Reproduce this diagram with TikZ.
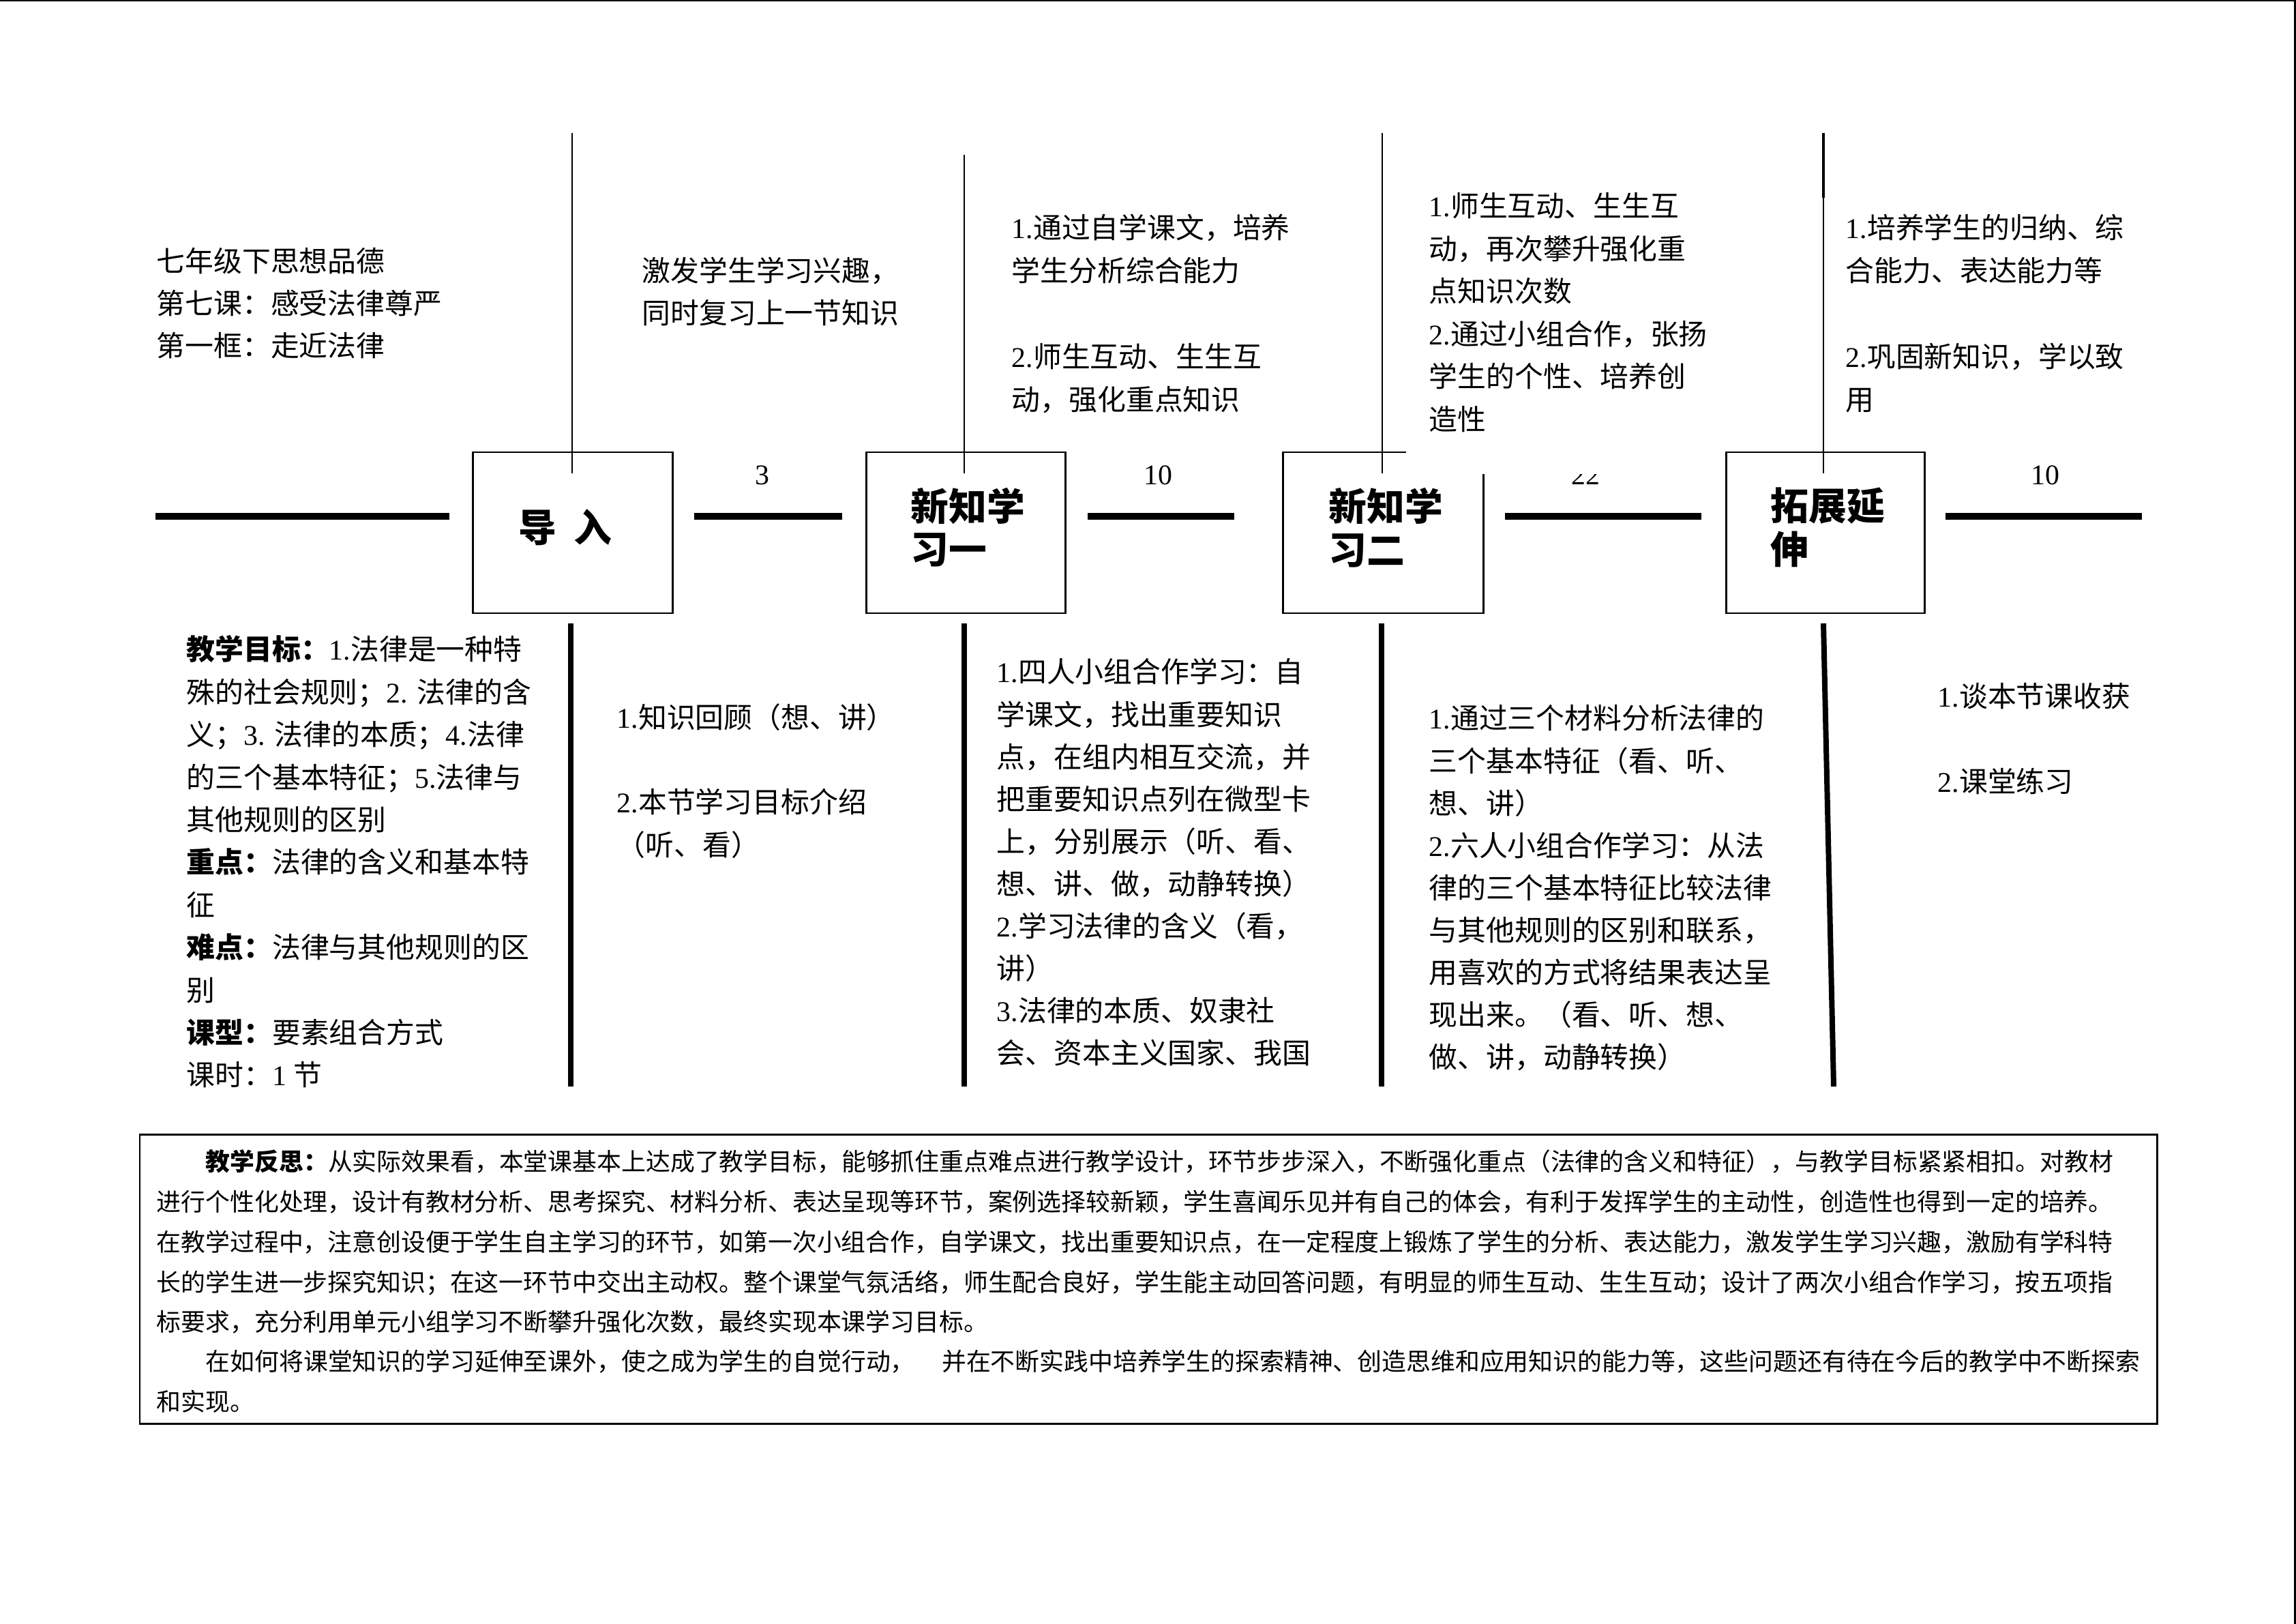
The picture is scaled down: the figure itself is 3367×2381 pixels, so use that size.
\documentclass[tikz,border=0pt]{standalone}
\usepackage{fontspec}
\setmainfont{Noto Sans CJK SC}
\newfontfamily\tmsf{Liberation Serif}
\newcommand\tm[1]{{\tmsf #1}}
\begin{document}
\begin{tikzpicture}[x=0.088209mm,y=-0.088209mm,
  txt/.style={font=\fontsize{10.5pt}{12pt}\selectfont, inner sep=0pt, anchor=west, text height=0.8em, text depth=0.1em},
  smalltxt/.style={font=\fontsize{9pt}{11pt}\selectfont, inner sep=0pt, anchor=west, text height=0.8em, text depth=0.1em},
  ttl/.style={font=\fontsize{14pt}{16pt}\selectfont\bfseries, inner sep=0pt, anchor=west, text height=0.8em, text depth=0.1em},
  num/.style={font=\fontsize{10.5pt}{12pt}\selectfont\tmsf, inner sep=0pt, anchor=base},
  thinln/.style={line width=0.6pt},
  thickv/.style={line width=2pt},
  thickh/.style={line width=2.75pt},
  boxln/.style={line width=0.75pt}]
\useasboundingbox (0,0) rectangle (3367,2381);
% page frame (top and right)
\draw[line width=0.6pt] (0,1) -- (3367,1);
\draw[line width=0.9pt] (3365.5,0) -- (3365.5,2381);

% main timeline thick segments
\draw[thickh] (228,757) -- (659,757);
\draw[thickh] (1018,757) -- (1235,757);
\draw[thickh] (1595,757) -- (1810,757);
\draw[thickh] (2207,757) -- (2495,757);
\draw[thickh] (2853,757) -- (3141,757);

% thin verticals above
\draw[thinln] (839,195) -- (839,694);
\draw[thinln] (1414,227) -- (1414,694);
\draw[thinln] (2027,195) -- (2027,694);
\draw[line width=1.1pt] (2674,195) -- (2674,290);
\draw[thinln] (2674,290) -- (2674,694);

% thick verticals below
\draw[thickv] (837,914) -- (837,1593);
\draw[thickv] (1414,914) -- (1414,1593);
\draw[thickv] (2026,914) -- (2026,1593);
\draw[thickv] (2674,914) -- (2689,1593);

% duration labels
\node[num] (n1) at (1118,711) {3};
\node[num] (n2) at (1698,711) {10};
\node[num] (n3) at (2325,711) {22};
\node[num] (n4) at (2999,711) {10};
\fill[white] (2250,640) rectangle (2420,695);

% boxes
\draw[boxln] (693,663) rectangle (986,899);
\draw[boxln] (1270,663) rectangle (1562,899);
\draw[boxln] (2062,663) -- (1881,663) -- (1881,899) -- (2175,899) -- (2175,695);
\draw[boxln] (2531,663) rectangle (2822,899);

% box titles
\node[ttl,anchor=center] (b1) at (829,781) {导\hspace{0.45em}入};
\node[ttl] (b2a) at (1335,750) {新知学};
\node[ttl] (b2b) at (1335,813) {习一};
\node[ttl] (b3a) at (1948,750) {新知学};
\node[ttl] (b3b) at (1948,814) {习二};
\node[ttl] (b4a) at (2596,749) {拓展延};
\node[ttl] (b4b) at (2596,813) {伸};

% upper texts
\foreach \t [count=\i from 0] in {七年级下思想品德,第七课：感受法律尊严,第一框：走近法律}
  \node[txt] (ta-\i) at (229,{385+62*\i}) {\t};
\foreach \t [count=\i from 0] in {激发学生学习兴趣，,同时复习上一节知识}
  \node[txt] (tb-\i) at (941,{399+62*\i}) {\t};
\foreach \t [count=\i from 0] in {\tm{1.}通过自学课文，培养,学生分析综合能力}
  \node[txt] (tc-\i) at (1483,{336+63*\i}) {\t};
\foreach \t [count=\i from 0] in {\tm{2.}师生互动、生生互,动，强化重点知识}
  \node[txt] (td-\i) at (1483,{525+63*\i}) {\t};
\foreach \t [count=\i from 0] in {\tm{1.}师生互动、生生互,动，再次攀升强化重,点知识次数,\tm{2.}通过小组合作，张扬,学生的个性、培养创,造性}
  \node[txt] (te-\i) at (2095,{304+62.5*\i}) {\t};
\foreach \t [count=\i from 0] in {\tm{1.}培养学生的归纳、综,合能力、表达能力等}
  \node[txt] (tf-\i) at (2706,{336+63*\i}) {\t};
\foreach \t [count=\i from 0] in {\tm{2.}巩固新知识，学以致,用}
  \node[txt] (tg-\i) at (2706,{525+63*\i}) {\t};

% lower texts
\foreach \t [count=\i from 0] in {{\bfseries 教学目标：}\tm{1.}法律是一种特,殊的社会规则；\tm{2. }法律的含,义；\tm{3. }法律的本质；\tm{4.}法律,的三个基本特征；\tm{5.}法律与,其他规则的区别,{\bfseries 重点：}法律的含义和基本特,征,{\bfseries 难点：}法律与其他规则的区,别,{\bfseries 课型：}要素组合方式,课时：\tm{1 }节}
  \node[txt] (la-\i) at (273,{954+62.4*\i}) {\t};
\node[txt] (lb-0) at (904,1054) {\tm{1.}知识回顾（想、讲）};
\node[txt] (lb-1) at (904,1178) {\tm{2.}本节学习目标介绍};
\node[txt] (lb-2) at (904,1241) {（听、看）};
\foreach \t [count=\i from 0] in {\tm{1.}四人小组合作学习：自,学课文，找出重要知识,点，在组内相互交流，并,把重要知识点列在微型卡,上，分别展示（听、看、,想、讲、做，动静转换）,\tm{2.}学习法律的含义（看，,讲）,\tm{3.}法律的本质、奴隶社,会、资本主义国家、我国}
  \node[txt] (lc-\i) at (1461,{987+62.1*\i}) {\t};
\foreach \t [count=\i from 0] in {\tm{1.}通过三个材料分析法律的,三个基本特征（看、听、,想、讲）,\tm{2.}六人小组合作学习：从法,律的三个基本特征比较法律,与其他规则的区别和联系，,用喜欢的方式将结果表达呈,现出来。（看、听、想、,做、讲，动静转换）}
  \node[txt] (ld-\i) at (2095,{1055+62.1*\i}) {\t};
\node[txt] (le-0) at (2841,1023) {\tm{1.}谈本节课收获};
\node[txt] (le-1) at (2841,1148) {\tm{2.}课堂练习};

% reflection box
\draw[boxln] (205,1663) rectangle (3163,2087);
\node[smalltxt] (r-0) at (301,1703) {{\bfseries 教学反思：}从实际效果看，本堂课基本上达成了教学目标，能够抓住重点难点进行教学设计，环节步步深入，不断强化重点（法律的含义和特征），与教学目标紧紧相扣。对教材};
\node[smalltxt] (r-1) at (229,1762) {进行个性化处理，设计有教材分析、思考探究、材料分析、表达呈现等环节，案例选择较新颖，学生喜闻乐见并有自己的体会，有利于发挥学生的主动性，创造性也得到一定的培养。};
\node[smalltxt] (r-2) at (229,1821) {在教学过程中，注意创设便于学生自主学习的环节，如第一次小组合作，自学课文，找出重要知识点，在一定程度上锻炼了学生的分析、表达能力，激发学生学习兴趣，激励有学科特};
\node[smalltxt] (r-3) at (229,1880) {长的学生进一步探究知识；在这一环节中交出主动权。整个课堂气氛活络，师生配合良好，学生能主动回答问题，有明显的师生互动、生生互动；设计了两次小组合作学习，按五项指};
\node[smalltxt] (r-4) at (229,1938) {标要求，充分利用单元小组学习不断攀升强化次数，最终实现本课学习目标。};
\node[smalltxt] (r-5) at (301,1996) {在如何将课堂知识的学习延伸至课外，使之成为学生的自觉行动，\hspace{1.1em}并在不断实践中培养学生的探索精神、创造思维和应用知识的能力等，这些问题还有待在今后的教学中不断探索};
\node[smalltxt] (r-6) at (229,2055) {和实现。};
\end{tikzpicture}
\end{document}
